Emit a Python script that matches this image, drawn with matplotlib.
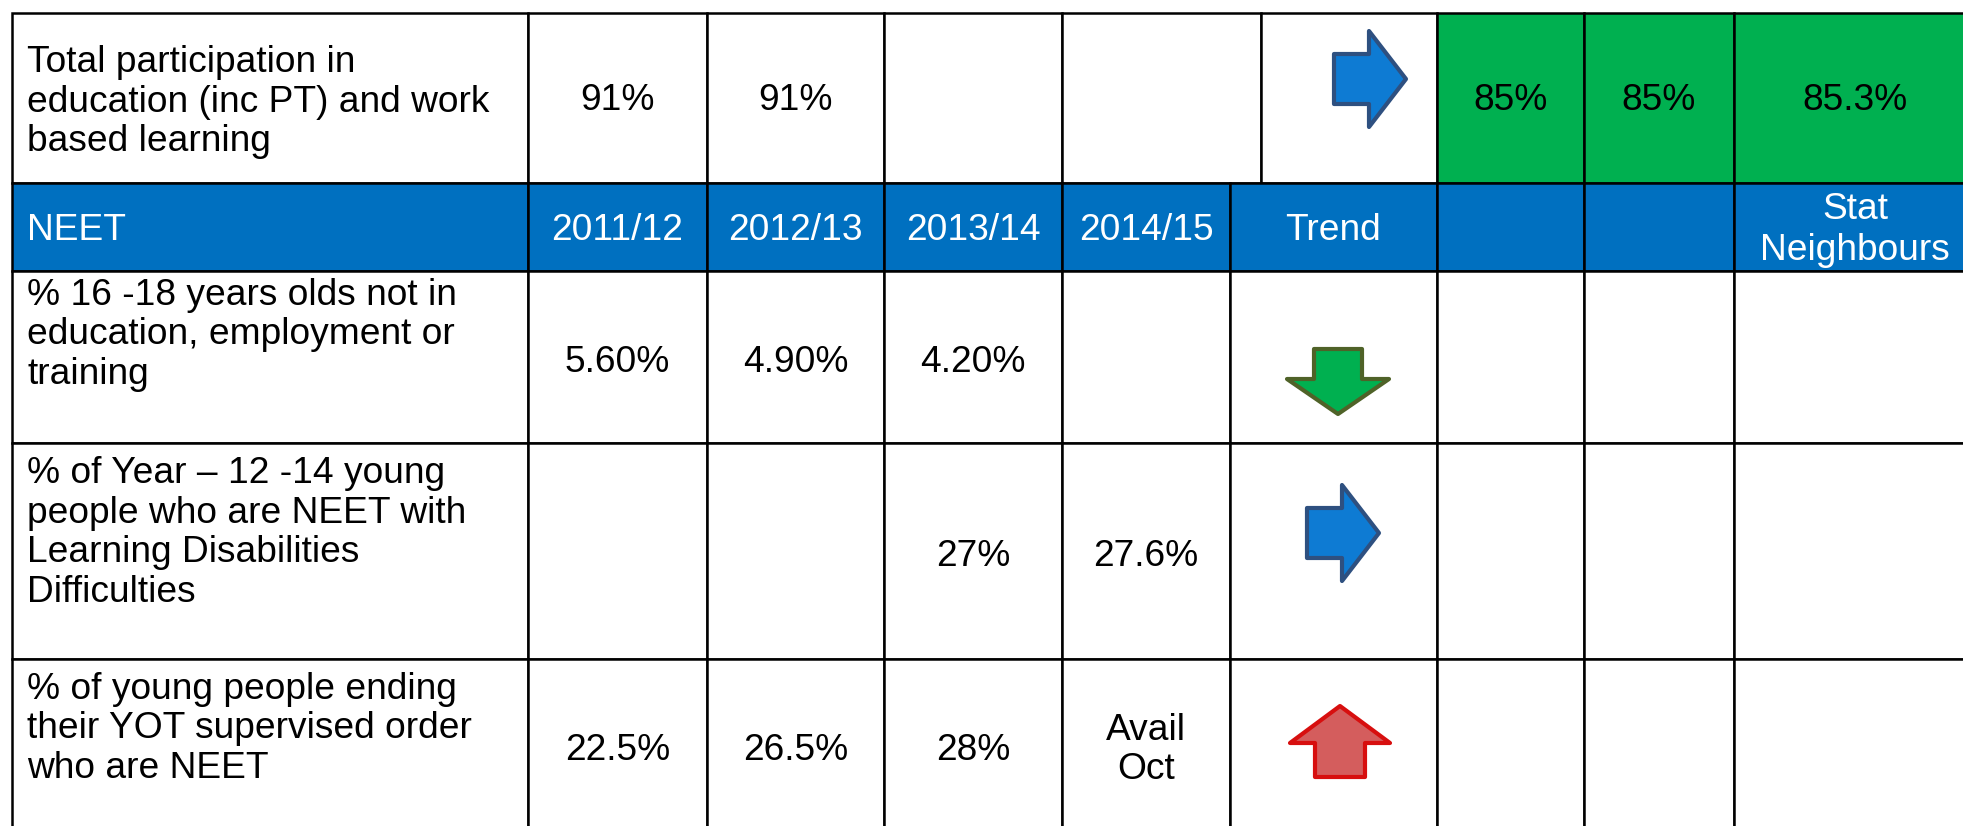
"""
NEET indicators table redrawn with matplotlib patches and text
"""

import matplotlib.pyplot as plt
from matplotlib.patches import Polygon, Rectangle

plt.rcParams['font.family'] = ['Liberation Sans', 'DejaVu Sans']

# --- data ---
top_label = 'Total participation in\neducation (inc PT) and work\nbased learning'
top_values = ['91%', '91%', '', '']
top_trend = 'right'
top_compare = ['85%', '85%', '85.3%']

header_title = 'NEET'
years = ['2011/12', '2012/13', '2013/14', '2014/15']
header_extra = ['Trend', '', '', 'Stat\nNeighbours']

row_labels = [
    '% 16 -18 years olds not in\neducation, employment or\ntraining',
    '% of Year \u2013 12 -14 young\npeople who are NEET with\n'
    'Learning Disabilities\nDifficulties',
    '% of young people ending\ntheir YOT supervised order\nwho are NEET',
]
row_values = [
    ['5.60%', '4.90%', '4.20%', ''],
    ['', '', '27%', '27.6%'],
    ['22.5%', '26.5%', '28%', 'Avail\nOct'],
]
row_trends = ['down', 'right', 'up']

# --- layout (pixels) ---
W, H = 1963, 826
cols_top = [12, 528, 707, 884, 1062, 1261, 1437, 1584, 1734, 1976]
cols = [12, 528, 707, 884, 1062, 1230, 1437, 1584, 1734, 1976]
rows = [13, 183, 271, 443, 659, 900]

label_y = [102, 335, 533, 729]
value_y = [101, 363, 556, 750]
arrow_xy = [(1369, 79), (1338, 379), (1342, 533), (1340, 743)]

BLUE = '#0070C0'
GREEN = '#00B050'
FS = 26.7
LS = 1.18
LW = 1.8

# arrow shapes relative to the head/shaft junction
ARROWS = {
    'right': ([(-35, -25), (0, -25), (0, -48), (37, 0), (0, 48), (0, 25),
               (-35, 25)], '#0E7BD3', '#2E5080'),
    'down': ([(-24, -30), (24, -30), (24, 0), (51, 0), (0, 35), (-51, 0),
              (-24, 0)], '#00B050', '#4F6228'),
    'up': ([(0, -37), (50, 0), (25, 0), (25, 34), (-25, 34), (-25, 0),
            (-50, 0)], '#D45D5D', '#D70F0F'),
}


def cell(ax, x0, x1, y0, y1, color='white'):
    ax.add_patch(Rectangle((x0, y0), x1 - x0, y1 - y0, facecolor=color,
                           edgecolor='black', linewidth=LW, zorder=1))


def arrow(ax, kind, xy):
    pts, fc, ec = ARROWS[kind]
    shape = [(xy[0] + dx, xy[1] + dy) for dx, dy in pts]
    ax.add_patch(Polygon(shape, closed=True, facecolor=fc, edgecolor=ec,
                         linewidth=3, joinstyle='round', zorder=3))


fig = plt.figure(figsize=(W / 100, H / 100), dpi=100)
ax = fig.add_axes([0, 0, 1, 1])
ax.set_xlim(0, W)
ax.set_ylim(H, 0)
ax.axis('off')

# top row
for i in range(len(cols_top) - 1):
    color = GREEN if i >= 6 else 'white'
    cell(ax, cols_top[i], cols_top[i + 1], rows[0], rows[1], color)
ax.text(cols_top[0] + 15, label_y[0], top_label, fontsize=FS, va='center',
        ha='left', linespacing=LS)
for i, v in enumerate(top_values):
    ax.text((cols_top[i + 1] + cols_top[i + 2]) / 2, value_y[0], v,
            fontsize=FS, ha='center', va='center')
arrow(ax, top_trend, arrow_xy[0])
for i, v in enumerate(top_compare):
    ax.text((cols_top[i + 6] + cols_top[i + 7]) / 2, value_y[0], v,
            fontsize=FS, ha='center', va='center')

# header row
hy = (rows[1] + rows[2]) / 2 + 3
for i in range(len(cols) - 1):
    cell(ax, cols[i], cols[i + 1], rows[1], rows[2], BLUE)
ax.text(cols[0] + 15, hy, header_title, fontsize=FS, color='white',
        ha='left', va='center')
for i, t in enumerate(years + header_extra):
    ax.text((cols[i + 1] + cols[i + 2]) / 2, hy, t, fontsize=FS,
            color='white', ha='center', va='center', linespacing=1.22)

# indicator rows
for r, (lab, vals, tr) in enumerate(zip(row_labels, row_values, row_trends)):
    y0, y1 = rows[r + 2], rows[r + 3]
    for i in range(len(cols) - 1):
        cell(ax, cols[i], cols[i + 1], y0, y1)
    ax.text(cols[0] + 15, label_y[r + 1], lab, fontsize=FS, ha='left',
            va='center', linespacing=LS)
    for i, v in enumerate(vals):
        ax.text((cols[i + 1] + cols[i + 2]) / 2, value_y[r + 1], v,
                fontsize=FS, ha='center', va='center', linespacing=LS)
    arrow(ax, tr, arrow_xy[r + 1])

fig.savefig('out.png', dpi=100)
